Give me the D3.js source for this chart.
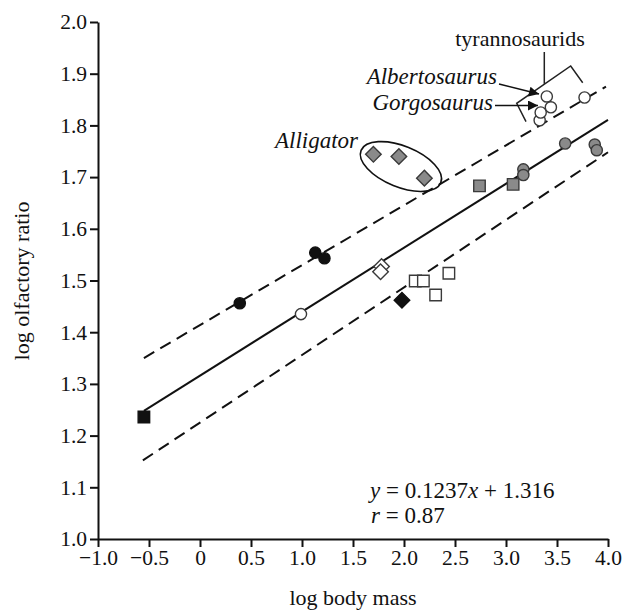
<!DOCTYPE html>
<html>
<head>
<meta charset="utf-8">
<script src="https://cdn.jsdelivr.net/npm/d3@7"></script>
<style>
    body { margin: 0; background: #fff; }
    svg text { font-family: 'Liberation Serif', 'Times New Roman', serif; fill: #111; }
    .axis path, .axis line { stroke: #111; stroke-width: 2px; }
    .axis text { font-size: 21.5px; }
</style>
</head>
<body>
<div class="chart"></div>
<script>
// tick labels
const xTicks = [-1, -0.5, 0, 0.5, 1, 1.5, 2, 2.5, 3, 3.5, 4];
const xTickLabels = ['\u22121.0', '\u22120.5', '0', '0.5', '1.0', '1.5', '2.0', '2.5', '3.0', '3.5', '4.0'];
const yTicks = [1.0, 1.1, 1.2, 1.3, 1.4, 1.5, 1.6, 1.7, 1.8, 1.9, 2.0];
const yTickLabels = ['1.0', '1.1', '1.2', '1.3', '1.4', '1.5', '1.6', '1.7', '1.8', '1.9', '2.0'];

// points, [log body mass, log olfactory ratio]
const blackSquares = [[-0.55, 1.236]];
const blackCircles = [[0.39, 1.456], [1.13, 1.554], [1.22, 1.543]];
const openCircles = [[0.99, 1.435]];
const openDiamonds = [[1.78, 1.527], [1.77, 1.517]];
const blackDiamonds = [[1.98, 1.462]];
const openSquares = [[2.11, 1.499], [2.19, 1.499], [2.31, 1.472], [2.44, 1.514]];
const alligator = [[1.70, 1.744], [1.95, 1.740], [2.20, 1.698]];
const graySquares = [[2.74, 1.683], [3.07, 1.686]];
const grayCircles = [[3.17, 1.715], [3.17, 1.704], [3.58, 1.765], [3.87, 1.763], [3.89, 1.752]];
const tyrannosaurids = [[3.33, 1.810], [3.34, 1.825], [3.44, 1.835], [3.40, 1.856], [3.77, 1.854]];

// regression and band
const slope = 0.1237;
const intercept = 1.316;
const fitRange = [-0.55, 4.0];
const upperBand = [[-0.55, 1.350], [3.98, 1.875]];
const lowerBand = [[-0.56, 1.152], [4.0, 1.748]];

(function () {
    const width = 625, height = 613;
    const x = d3.scaleLinear().domain([-1, 4]).range([98, 608]);
    const y = d3.scaleLinear().domain([1, 2]).range([539, 22]);

    let svg = d3.select('.chart').append('svg')
        .attr('width', width)
        .attr('height', height);

    // axes
    svg.append('g')
        .classed('axis', true)
        .attr('transform', `translate(0, ${y(1)})`)
        .call(d3.axisBottom(x).tickValues(xTicks).tickSize(8).tickSizeOuter(0).tickPadding(3)
            .tickFormat((d, i) => xTickLabels[i]));

    svg.append('g')
        .classed('axis', true)
        .attr('transform', `translate(${x(-1)}, 0)`)
        .call(d3.axisLeft(y).tickValues(yTicks).tickSize(8).tickSizeOuter(0).tickPadding(3)
            .tickFormat((d, i) => yTickLabels[i]));

    svg.selectAll('.axis text').attr('fill', '#111');

    svg.append('text')
        .attr('x', 353).attr('y', 605)
        .attr('text-anchor', 'middle')
        .style('font-size', '22px')
        .text('log body mass');

    svg.append('text')
        .attr('transform', 'translate(29, 281) rotate(-90)')
        .attr('text-anchor', 'middle')
        .style('font-size', '22px')
        .text('log olfactory ratio');

    // fit line and dashed band
    const line = d3.line().x(d => x(d[0])).y(d => y(d[1]));
    svg.append('path')
        .datum(fitRange.map(v => [v, intercept + slope * v]))
        .attr('d', line)
        .attr('fill', 'none').attr('stroke', '#111').attr('stroke-width', 2);

    [upperBand, lowerBand].forEach(band => {
        svg.append('path')
            .datum(band)
            .attr('d', line)
            .attr('fill', 'none').attr('stroke', '#111').attr('stroke-width', 2)
            .attr('stroke-dasharray', '12,7');
    });

    // markers
    function drawPoints(data, shape, fill) {
        let sym;
        if (shape === 'circle') sym = d3.symbol(d3.symbolCircle, Math.PI * 5.6 * 5.6);
        else if (shape === 'square') sym = d3.symbol(d3.symbolSquare, 11.5 * 11.5);
        else sym = d3.symbol(d3.symbolSquare, 11 * 11);
        svg.append('g').selectAll('path')
            .data(data)
            .join('path')
            .attr('d', sym)
            .attr('transform', d => `translate(${x(d[0])}, ${y(d[1])})` + (shape === 'diamond' ? ' rotate(45)' : ''))
            .attr('fill', fill)
            .attr('stroke', fill === '#111' ? '#111' : '#3a3a3a')
            .attr('stroke-width', 1.4);
    }

    drawPoints(blackSquares, 'square', '#111');
    drawPoints(blackCircles, 'circle', '#111');
    drawPoints(openCircles, 'circle', '#fff');
    drawPoints(openDiamonds, 'diamond', '#fff');
    drawPoints(blackDiamonds, 'diamond', '#111');
    drawPoints(openSquares, 'square', '#fff');
    drawPoints(alligator, 'diamond', '#8a8a8a');
    drawPoints(graySquares, 'square', '#8a8a8a');
    drawPoints(grayCircles, 'circle', '#8a8a8a');
    drawPoints(tyrannosaurids, 'circle', '#fff');

    // annotations
    svg.append('ellipse')
        .attr('transform', `translate(${x(1.97)}, ${y(1.7205)}) rotate(22)`)
        .attr('rx', 43).attr('ry', 20.5)
        .attr('fill', 'none').attr('stroke', '#111').attr('stroke-width', 1.6);

    svg.append('text')
        .attr('x', 358).attr('y', 148)
        .attr('text-anchor', 'end')
        .style('font-size', '23px').style('font-style', 'italic')
        .text('Alligator');

    svg.append('text')
        .attr('x', 520).attr('y', 46)
        .attr('text-anchor', 'middle')
        .style('font-size', '22px')
        .text('tyrannosaurids');

    // bracket round the tyrannosaurids
    svg.append('path')
        .attr('d', 'M526,121.7 L516.7,103.3 L570.7,66 L582.7,82.7 M544.3,84.3 L544.3,52')
        .attr('fill', 'none').attr('stroke', '#222').attr('stroke-width', 1.5);

    svg.append('defs').append('marker')
        .attr('id', 'head')
        .attr('viewBox', '0 0 10 10')
        .attr('refX', 10).attr('refY', 5)
        .attr('markerWidth', 14).attr('markerHeight', 10)
        .attr('markerUnits', 'userSpaceOnUse')
        .attr('orient', 'auto')
        .append('path')
        .attr('d', 'M0,0 L10,5 L0,10 Z')
        .attr('fill', '#111');

    svg.append('text')
        .attr('x', 497).attr('y', 84)
        .attr('text-anchor', 'end')
        .style('font-size', '23px').style('font-style', 'italic')
        .text('Albertosaurus');
    svg.append('line')
        .attr('x1', 499).attr('y1', 84).attr('x2', 539).attr('y2', 94)
        .attr('stroke', '#111').attr('stroke-width', 1.6)
        .attr('marker-end', 'url(#head)');

    svg.append('text')
        .attr('x', 493).attr('y', 110)
        .attr('text-anchor', 'end')
        .style('font-size', '23px').style('font-style', 'italic')
        .text('Gorgosaurus');
    svg.append('line')
        .attr('x1', 495).attr('y1', 105.5).attr('x2', 538).attr('y2', 105.5)
        .attr('stroke', '#111').attr('stroke-width', 1.6)
        .attr('marker-end', 'url(#head)');

    // fit statistics
    let eq = svg.append('text')
        .attr('x', 370).attr('y', 498)
        .style('font-size', '23px');
    eq.append('tspan').style('font-style', 'italic').text('y');
    eq.append('tspan').text(' = 0.1237');
    eq.append('tspan').style('font-style', 'italic').text('x');
    eq.append('tspan').text(' + 1.316');

    let rr = svg.append('text')
        .attr('x', 371).attr('y', 523)
        .style('font-size', '23px');
    rr.append('tspan').style('font-style', 'italic').text('r');
    rr.append('tspan').text(' = 0.87');
})();
</script>
</body>
</html>
